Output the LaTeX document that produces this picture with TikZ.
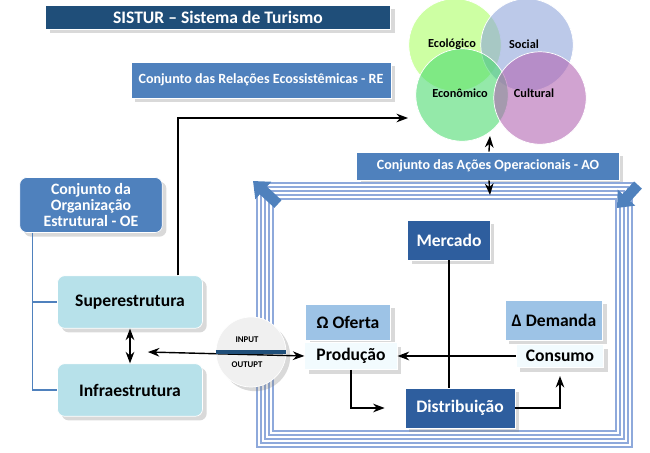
\documentclass[tikz,border=0pt]{standalone}
\usepackage{fontspec}
\setmainfont{Carlito}
\usepackage{xcolor}
\usetikzlibrary{shapes.geometric, arrows.meta, positioning, calc, shadows}

\definecolor{navy}{HTML}{1F4E79}
\definecolor{midblue}{HTML}{4F81BD}
\definecolor{darkblue}{HTML}{2E5E9E}
\definecolor{paleblue}{HTML}{9DC3E6}
\definecolor{cyanbox}{HTML}{B7E1EA}
\definecolor{frameblue}{HTML}{8EA9DB}

\begin{document}
\begin{tikzpicture}[
    x=0.02cm, y=-0.02cm,
    box/.style={draw=white, minimum width=#1, align=center, font=\bfseries, text=white, drop shadow={opacity=0.3}},
    box/.default=2cm,
    sub/.style={draw=white, fill=cyanbox, rounded corners=4pt, minimum width=2.9cm, minimum height=1.05cm, font=\bfseries, drop shadow={opacity=0.3}},
    ring/.style={circle, draw=white, minimum size=1.85cm, fill opacity=0.6},
    corner/.style={-{Triangle[width=13pt,length=8pt]}, line width=6pt, midblue},
    arrow/.style={->, thick, >=Stealth},
    darrow/.style={<->, thick, >=Stealth}
]
    \useasboundingbox (0,0) rectangle (650,453);
    % top titles
    \node[box=6.9cm, fill=navy, minimum height=0.48cm, font=\bfseries\normalsize] (sistur) at (218,17) {SISTUR -- Sistema de Turismo};
    \node[box=5.2cm, fill=midblue, minimum height=0.72cm, font=\bfseries\footnotesize] (re) at (261,80) {Conjunto das Relações Ecossistêmicas - RE};
    % four dimensions
    \node[ring, fill=green!55!yellow!60] (eco) at (455,45) {};
    \node[ring, fill=cyan!40!blue!45] (soc) at (527,45) {};
    \node[ring, fill=green!60!teal!70] (econ) at (462,95) {};
    \node[ring, fill=violet!60] (cult) at (540,98) {};
    \node[font=\bfseries\scriptsize] at (452,44) {Ecológico};
    \node[font=\bfseries\scriptsize] at (524,44) {Social};
    \node[font=\bfseries\scriptsize] at (460,93) {Econômico};
    \node[font=\bfseries\scriptsize] at (534,93) {Cultural};
    \coordinate (circin) at (408,118);
    \coordinate (circbot) at (490,136);
    \node[box=5.25cm, fill=midblue, minimum height=0.56cm, font=\bfseries\footnotesize] (ao) at (488,166) {Conjunto das Ações Operacionais - AO};
    % market frame
    \foreach \d in {0,4,8,12,16}
        \draw[frameblue, thick] (257+\d,183+\d) rectangle (632-\d,447-\d);
    \coordinate (frametop) at (490,195);
    \coordinate (cornlA) at (278,204);
    \coordinate (cornlB) at (253,181);
    \coordinate (cornrA) at (638,185);
    \coordinate (cornrB) at (617,208);
    \draw[corner] (cornlA) -- (cornlB);
    \draw[corner] (cornrA) -- (cornrB);
    % structure
    \node[box=2.85cm, fill=midblue, rounded corners=4pt, minimum height=1.1cm, font=\bfseries\small] (oe) at (91,205) {Conjunto da\\[-2pt]Organização\\[-2pt]Estrutural - OE};
    \node[sub] (super) at (130,302) {Superestrutura};
    \node[sub] (infra) at (130,390) {Infraestrutura};
    \draw[midblue, thick] ($(oe.south west)+(13,0)$) |- (infra.west);
    \draw[midblue, thick] ($(oe.south west)+(13,0)$) |- (super.west);
    \draw[darrow] (super) -- (infra);
    \draw[arrow] ($(super.north)+(48,0)$) |- (circin);
    % input / output
    \node[circle, fill=gray!12, draw=white, minimum size=1.4cm, drop shadow={opacity=0.3}] (io) at (251,352) {};
    \node[font=\bfseries\tiny] at (247,340) {INPUT};
    \node[font=\bfseries\tiny] at (247,365) {OUTUPT};
    % market
    \node[box=1.65cm, fill=darkblue, minimum height=0.8cm, font=\bfseries\normalsize] (mercado) at (449,240) {Mercado};
    \node[box=1.7cm, fill=paleblue, minimum height=0.72cm, text=black, font=\bfseries\normalsize] (oferta) at (348,322) {Ω Oferta};
    \node[box=1.85cm, fill=cyan!5, minimum height=0.45cm, text=black, font=\bfseries\normalsize] (producao) at (351,356) {Produção};
    \node[box=1.95cm, fill=paleblue, minimum height=0.8cm, text=black, font=\bfseries\normalsize] (demanda) at (554,320) {Δ Demanda};
    \node[box=1.75cm, fill=cyan!5, minimum height=0.45cm, text=black, font=\bfseries\normalsize] (consumo) at (560,356) {Consumo};
    \node[box=2.2cm, fill=darkblue, minimum height=0.8cm, font=\bfseries\normalsize] (distrib) at (460,408) {Distribuição};
    \draw[darrow] (infra.north east |- io) ++(-55,0) coordinate (ioleft) -- (producao.west);
    \draw[navy, line width=2pt] (io.west) -- (io.east);
    \draw[arrow] (ao) -- (circbot);
    \draw[arrow] (ao) -- (frametop);
    \draw[thick] (mercado) -- (mercado |- distrib.north);
    \draw[arrow] (consumo) -- (producao);
    \draw[arrow] (producao.south) |- ($(distrib.west)+(-20,0)$);
    \draw[arrow] (distrib.east) -| ($(consumo.south)+(0,8)$);
\end{tikzpicture}
\end{document}
